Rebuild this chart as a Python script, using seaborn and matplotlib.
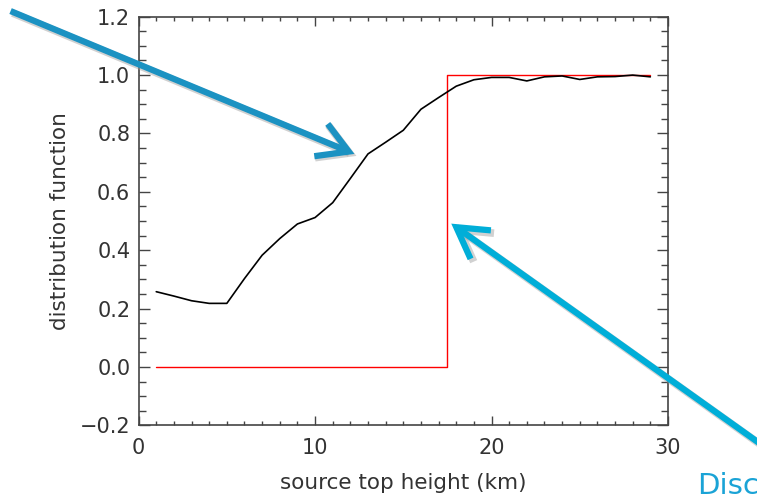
import numpy as np
import pandas as pd
import matplotlib
matplotlib.use("Agg")
import matplotlib.pyplot as plt
import seaborn as sns
from matplotlib.patches import FancyArrowPatch
from matplotlib.ticker import MultipleLocator, FuncFormatter

# data
height_km = list(range(1, 30))
dist_func = [0.258, 0.243, 0.227, 0.218, 0.218, 0.303, 0.383, 0.44, 0.49, 0.512,
             0.563, 0.646, 0.73, 0.77, 0.811, 0.883, 0.923, 0.962, 0.984, 0.992,
             0.992, 0.98, 0.994, 0.997, 0.985, 0.994, 0.995, 1.0, 0.994]
step_x = [1, 17.5, 17.5, 29]
step_y = [0.0, 0.0, 1.0, 1.0]

xlabel = "source top height (km)"
ylabel = "distribution function"
note_text = "Discontinuity"

sns.set_style("ticks")
plt.rcParams['font.family'] = ['DejaVu Sans']

W, H = 757, 497
fig = plt.figure(figsize=(W / 100, H / 100), dpi=100)
ax = fig.add_axes([138.6 / W, 1 - 425.4 / H, (668 - 138.6) / W, (425.4 - 16.7) / H])

sns.lineplot(x=step_x, y=step_y, ax=ax, color="#ff0000", linewidth=1.0,
             estimator=None, sort=False)
sns.lineplot(x=height_km, y=dist_func, ax=ax, color="black", linewidth=1.2,
             estimator=None, sort=False)

ax.set_xlim(0, 30)
ax.set_ylim(-0.2, 1.2)
ax.xaxis.set_major_locator(MultipleLocator(10))
ax.xaxis.set_minor_locator(MultipleLocator(1))
ax.yaxis.set_major_locator(MultipleLocator(0.2))
ax.yaxis.set_minor_locator(MultipleLocator(0.05))
ax.yaxis.set_major_formatter(FuncFormatter(lambda v, p: f"{v:.1f}".replace("-", "\u2212")))
ax.xaxis.set_major_formatter(FuncFormatter(lambda v, p: f"{v:.0f}"))

txtcol = "#333333"
ax.tick_params(which="both", direction="in", top=True, right=True,
               colors="#444444", labelcolor=txtcol, labelsize=15, width=1.0)
ax.tick_params(axis="x", which="major", length=6.5, pad=9)
ax.tick_params(axis="x", which="minor", length=3)
ax.tick_params(axis="y", which="major", length=8, pad=6)
ax.tick_params(axis="y", which="minor", length=5)
for s in ax.spines.values():
    s.set_color("#444444")
    s.set_linewidth(1.2)

ax.set_xlabel(xlabel, fontsize=15.5, color=txtcol, labelpad=11)
ax.set_ylabel(ylabel, fontsize=15.5, color=txtcol, labelpad=7)


def fpt(x, y):
    return (x / W, 1 - y / H)


def add_arrow(p0, p1, col):
    # soft shadow
    sh = FancyArrowPatch(fpt(p0[0] + 2, p0[1] + 2), fpt(p1[0] + 2, p1[1] + 2),
                         transform=fig.transFigure,
                         arrowstyle="->,head_length=1.2,head_width=0.7", mutation_scale=18,
                         color="#999999", alpha=0.45, linewidth=5.5, capstyle="butt",
                         joinstyle="miter", clip_on=False)
    ar = FancyArrowPatch(fpt(*p0), fpt(*p1), transform=fig.transFigure,
                         arrowstyle="->,head_length=1.2,head_width=0.7", mutation_scale=18,
                         color=col, linewidth=4.5, capstyle="butt", joinstyle="miter",
                         clip_on=False)
    fig.add_artist(sh)
    fig.add_artist(ar)


add_arrow((8, 10), (357, 155), "#1b92c2")
add_arrow((790, 465), (449, 222), "#00aed8")

fig.text(697 / W, 1 - 472 / H, note_text, fontsize=21, color="#1aa3d6",
         ha="left", va="top")

fig.savefig("out.png", dpi=100)
